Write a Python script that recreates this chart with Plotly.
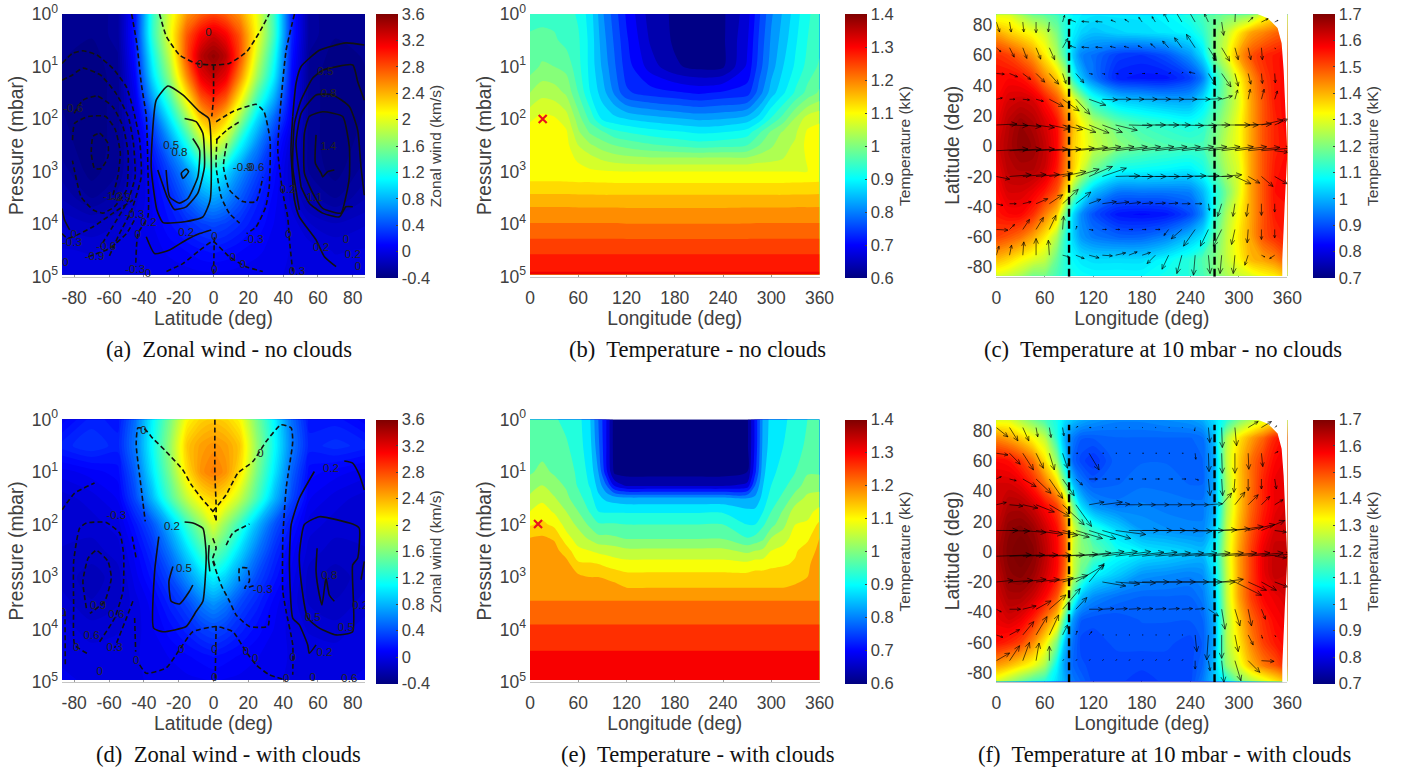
import math
import plotly.graph_objects as go

W, H = 1408, 770
JET = [[0, '#00007F'], [0.125, '#0000FF'], [0.375, '#00FFFF'], [0.625, '#FFFF00'], [0.875, '#FF0000'], [1, '#7F0000']]
TXT = '#404040'

# ---------- zonal wind (km/s) ----------
WIND_LAT = [-87, -70, -55, -45, -35, -25, -15, -7, 0, 7, 15, 25, 35, 45, 55, 70, 87]
WIND_A_LOGP = [0, .4, .8, 1.2, 1.6, 2, 2.5, 3, 3.5, 4, 4.5, 4.96]
WIND_A = [
    [-.3, -.32, -.25, .2, 1.3, 2.0, 2.55, 2.75, 2.85, 2.75, 2.55, 2.05, 1.35, .25, -.25, -.32, -.3],
    [-.3, -.32, -.25, .22, 1.3, 2.05, 2.8, 3.15, 3.3, 3.15, 2.8, 2.1, 1.35, .25, -.25, -.32, -.3],
    [-.32, -.35, -.28, .18, 1.15, 1.9, 2.85, 3.4, 3.55, 3.4, 2.85, 1.95, 1.2, .2, -.28, -.35, -.32],
    [-.33, -.36, -.3, .12, 1.0, 1.7, 2.6, 3.2, 3.35, 3.2, 2.6, 1.75, 1.05, .15, -.3, -.36, -.33],
    [-.33, -.36, -.3, .05, .75, 1.4, 2.2, 2.8, 3.0, 2.8, 2.2, 1.4, .8, .1, -.3, -.36, -.33],
    [-.32, -.36, -.3, .0, .45, 1.05, 1.75, 2.35, 2.55, 2.3, 1.75, 1.0, .5, .05, -.3, -.36, -.32],
    [-.3, -.36, -.3, -.08, .25, .65, 1.2, 1.75, 2.0, 1.75, 1.15, .65, .25, -.05, -.3, -.36, -.3],
    [-.25, -.35, -.28, -.1, .12, .4, .72, 1.05, 1.2, 1.0, .7, .4, .15, -.08, -.28, -.35, -.25],
    [-.18, -.28, -.2, -.05, .08, .25, .5, .7, .78, .68, .48, .25, .1, -.05, -.2, -.28, -.18],
    [-.08, -.12, -.07, 0, .07, .17, .28, .36, .4, .36, .28, .17, .07, 0, -.07, -.12, -.08],
    [-.02, -.03, 0, .02, .05, .09, .13, .17, .19, .17, .13, .09, .05, .02, 0, -.03, -.02],
    [0, 0, .01, .02, .03, .04, .05, .06, .06, .06, .05, .04, .03, .02, .01, 0, 0],
]
WIND_D_LOGP = [0, .5, 1, 1.5, 2, 2.5, 3, 3.5, 4, 4.5, 4.96]
WIND_D = [
    [.1, .25, .2, .55, 1.1, 1.6, 2.15, 2.3, 2.35, 2.3, 2.15, 1.6, 1.1, .55, .2, .2, .1],
    [.25, .32, .25, .6, 1.15, 1.7, 2.35, 2.5, 2.55, 2.5, 2.35, 1.7, 1.15, .6, .25, .3, .25],
    [.05, .1, .15, .5, 1.05, 1.6, 2.25, 2.55, 2.65, 2.55, 2.25, 1.6, 1.05, .5, .15, .1, .05],
    [-.05, 0, .08, .4, .85, 1.4, 1.9, 2.2, 2.3, 2.2, 1.9, 1.4, .85, .4, .08, 0, -.05],
    [-.05, -.05, 0, .2, .45, .85, 1.35, 1.7, 2.0, 1.7, 1.35, .85, .45, .2, 0, -.05, -.05],
    [-.08, -.1, -.05, .1, .3, .6, 1.0, 1.35, 1.55, 1.35, 1.0, .6, .3, .1, -.05, -.1, -.08],
    [-.1, -.15, -.1, .05, .2, .4, .7, .95, 1.1, .95, .7, .4, .2, .05, -.1, -.15, -.1],
    [-.05, -.12, -.08, 0, .1, .25, .4, .6, .7, .6, .4, .25, .1, 0, -.08, -.12, -.05],
    [0, -.05, -.03, 0, .07, .15, .25, .35, .4, .35, .25, .15, .07, 0, -.03, -.05, 0],
    [.02, 0, 0, .02, .04, .08, .12, .15, .18, .15, .12, .08, .04, .02, 0, 0, .02],
    [.03, .02, .02, .02, .03, .04, .06, .07, .08, .07, .06, .04, .03, .02, .02, .02, .03],
]

# streamfunction contour lines: (latitude, log10 pressure)
LINES_A_NEG = [
    ([-31, -27, -19.5, -10, 0, 9, 19, 26, 32], [0, .43, .78, .94, .97, .94, .72, .37, 0]),
    ([0, 0, -1], [.97, 1.6, 1.95]),
    ([-47, -44, -41.5, -38.6, -37.7, -37.7, -43.4, -44.7], [0, .57, 1.32, 1.95, 2.91, 3.86, 4.18, 4.81]),
    ([-87, -81, -75, -67, -58, -50, -46, -42.4, -41.5, -47, -54, -60], [.94, .75, .7, .78, 1.03, 1.39, 1.83, 2.4, 3.1, 3.73, 4.18, 4.62]),
    ([-87, -81, -75, -65, -56, -49, -46, -45, -49, -58, -65], [1.26, 1.16, 1.03, 1.16, 1.51, 1.95, 2.46, 3.1, 3.54, 4.05, 4.43]),
    ([-80, -75, -67, -58, -52, -49, -50, -57, -63.5, -69, -76, -81], [1.89, 1.64, 1.56, 1.76, 2.14, 2.65, 3.35, 3.67, 3.79, 3.73, 3.48, 2.79]),
    ([-81, -79.7, -71.8, -62, -56.4, -53.5, -55, -58], [2.4, 2.08, 1.95, 1.95, 2.2, 2.65, 3.1, 3.48]),
    ([-69.2, -65.4, -60.6, -60.6, -64.4, -68.3, -70.2, -69.2], [2.33, 2.27, 2.46, 2.72, 2.94, 2.94, 2.65, 2.33]),
    ([-87, -83.6, -69.2, -57.7, -46.3], [4.18, 4.27, 4.05, 3.79, 3.54]),
    ([-72, -59.7, -50, -44.4], [4.62, 4.46, 4.18, 3.86]),
    ([1.5, 11, 24.5, 29, 32.5, 32, 30, 24.5, 19], [2.05, 1.86, 1.72, 1.86, 2.4, 3.29, 3.67, 4.05, 4.18]),
    ([1.5, 8, 15], [2.4, 2.2, 2.05]),
    ([2, 1.5, 4.4, 9, 15], [2.37, 2.9, 3.48, 3.79, 3.98]),
    ([7.6, 5.7, 9.2, 16.8, 24.5, 28.3], [2.46, 2.9, 3.35, 3.57, 3.57, 3.1]),
    ([46.5, 41.7, 38.8, 36.9, 39.8, 42.6, 43.6, 45.5], [0, .69, 1.64, 2.59, 3.41, 3.86, 4.3, 4.9]),
    ([-27, -17.6, -8, -.4, 9, 18.7, 28.3], [4.9, 4.75, 4.5, 4.33, 4.62, 4.81, 4.9]),
    ([.5, 0], [4.25, 4.95]),
]
LINES_A_POS = [
    ([-38.6, -33.8, -25.2, -15.7, -8, -1.3], [4.24, 4.56, 4.49, 4.3, 4.18, 4.11]),
    ([-2.7, -1.9, -6.1, -15.7, -29, -32.5, -35.8, -32.9, -26.2, -17.6, -8, -2.7], [1.99, 3.54, 3.86, 3.95, 3.97, 3.73, 2.91, 1.64, 1.37, 1.54, 1.86, 1.99]),
    ([-16.6, -10, -6.1, -5.2, -9, -15.7, -22.4, -26.6, -32], [1.99, 2.05, 2.27, 2.91, 3.41, 3.67, 3.72, 3.48, 2.97]),
    ([-11.9, -8, -9, -14.7, -19.5, -25.2, -27.2], [2.37, 2.59, 3.1, 3.51, 3.6, 3.48, 2.97]),
    ([-18.5, -15.7, -14.3, -17.6, -18.5], [3.03, 2.95, 3.0, 3.13, 3.03]),
    ([45.5, 47.4, 50.3, 60.8, 76, 86.6], [1.95, 1.32, 1.0, .69, .55, .59]),
    ([45.5, 44.5, 46.5, 49.3, 58.9, 63.7, 70.4], [1.95, 2.59, 3.54, 3.86, 4.3, 4.62, 4.81]),
    ([49.3, 45.5, 46.5, 50.3, 57, 62.7, 80, 82.8, 86.6], [3.73, 2.91, 2.08, 1.64, 1.22, 1.07, .97, 1.29, 1.64]),
    ([50.3, 47.4, 50.3, 58.9, 68.5, 78, 82.8, 84.7, 86.6], [3.29, 2.46, 1.89, 1.54, 1.54, 1.76, 2.21, 2.91, 3.45]),
    ([50.3, 55, 62.7, 72.3, 76, 80], [3.29, 3.6, 3.79, 3.86, 3.67, 3.67]),
    ([52.2, 52.2, 55, 62.7, 74.2, 78, 78, 76, 73.2, 62.7, 57, 52.2], [3.03, 2.27, 1.95, 1.86, 1.95, 2.53, 3.1, 3.48, 3.79, 3.7, 3.41, 3.03]),
    ([58.9, 58.5, 61.8, 62.7, 65.6, 69.4], [2.3, 2.84, 3.03, 3.1, 3.0, 2.97]),
    ([-87, -85.5, -82.6], [3.7, 3.92, 4.11]),
]
LABELS_A = [
    ('0', -2.9, .37), ('0', -8, .97), ('0.5', -24.3, 2.51), ('0.8', -19.5, 2.65), ('-0.6', -80.7, 1.81),
    ('0.5', 64.2, 1.1), ('0.8', 66, 1.52), ('1.4', 66, 2.54), ('-0.9', 16.8, 2.94), ('-0.6', 23.5, 2.93),
    ('1.1', 58, 3.51), ('-1.2', -57.7, 3.48), ('-0.9', -53, 3.51), ('-0.3', -45.3, 3.83), ('0.2', -37.3, 3.98),
    ('0.2', -15.7, 4.18), ('-0.3', 23.1, 4.31), ('0', -43.6, 4.2), ('0', .6, 4.24), ('0', 43, 4.2), ('0.2', 42.6, 3.35),
    ('-0.6', -61.6, 4.43), ('-0.9', -68.3, 4.62), ('0', -80.3, 4.2), ('-0.3', -81.3, 4.36), ('0', -85, 4.75),
    ('0.2', 61.8, 4.46), ('0', 76, 4.3), ('0.2', 80, 4.59), ('0', 83, 4.81), ('-0.3', -45, 4.87), ('0', -37.7, 4.95),
    ('0', 16.8, 4.78), ('0', 11, 4.65), ('0', .6, 4.87), ('0.3', 48, 4.92),
]
LINES_D_NEG = [
    ([1.5, -.4, -6.1, -12.8, -17.6, -27.2, -34.8, -39.6, -43.4, -44.4, -41.5, -39.2], [1.91, 1.75, 1.53, 1.24, .96, .61, .36, .18, .16, .48, 1.31, 1.94]),
    ([-.4, 7.3, 14, 22.6, 30.2, 38.8, 44.6, 45.5, 41.7, 39.8, 39.8, 41.7, 45.5, 45.5], [1.75, 1.43, 1.02, .8, .42, .1, .16, .42, 1.31, 2.26, 3.27, 3.65, 4.29, 4.86]),
    ([.8, .8, 1.5, 1.5], [0, 1.05, 1.62, 1.94]),
    ([1.5, 1], [3.93, 4.93]),
    ([-46.7, -44.4], [2.23, 2.64]),
    ([-45.3, -44.7], [3.78, 4.42]),
    ([-46.3, -50, -56.8], [3.46, 3.78, 4.35]),
    ([-87, -79.7, -68.3], [1.72, 1.4, 1.21]),
    ([-72.7, -79.7, -80.3, -80.3, -76.9, -73, -61.6, -53.9, -51.6, -52, -56.8, -65.4], [4.45, 4.29, 3.53, 2.7, 2.07, 1.97, 1.96, 2.16, 2.58, 3.27, 3.78, 4.23]),
    ([-73, -75, -72, -67.3, -60.6, -58.7, -62.5, -71], [3.59, 3.08, 2.64, 2.49, 2.7, 3.02, 3.46, 3.69]),
    ([-85.3, -85.1], [3.65, 4.67]),
    ([7.3, 11.1, 20.6], [2.39, 2.16, 1.99]),
    ([-.4, 4.4, 9.2, 13, 20.6, 31.2, 32.1], [2.7, 3.15, 3.46, 3.72, 3.94, 3.94, 3.72]),
    ([14.9, 14.9, 19.7, 20.6, 17.8, 24.5], [3.08, 2.83, 2.83, 3.08, 3.21, 3.15]),
    ([-42.4, -38.6, -27.2, -19.5, -11.9, 1.5, 11.1, 18.7, 24.5, 32.1, 41.7], [4.67, 4.83, 4.73, 4.38, 4.04, 3.94, 4.04, 4.42, 4.67, 4.86, 4.96]),
    ([-.4, 1.5, -.4, 1.5], [2.26, 2.45, 2.64, 2.83]),
]
LINES_D_POS = [
    ([-31.4, -33.8, -34.4, -29, -15.7, -9.9, -6.1, -4.2, -6.1, -11.9, -16.6], [2.23, 2.89, 3.97, 4.04, 3.94, 3.65, 3.46, 2.58, 2.07, 1.97, 1.95]),
    ([-23.3, -25.6, -24.3, -19.5, -13.8, -11.9], [2.8, 3.08, 3.46, 3.51, 3.27, 3.15]),
    ([-2.5, -2.9, -2.1], [2.39, 2.64, 2.89]),
    ([57.9, 49.3, 44.6, 43.6, 45.5, 49.3, 54.1, 55, 58.9], [.99, 1.5, 2.0, 2.77, 3.78, 3.91, 4.29, 4.45, 4.29]),
    ([75.1, 79.9, 83.7, 86.6], [.79, .83, 1.05, 1.34]),
    ([52.2, 60.8, 79.9, 83.7, 82.8, 79.9, 79.9, 70.4, 60.8, 54.1, 50.3, 49.3, 52.2], [2.0, 1.85, 1.99, 2.07, 2.64, 2.77, 4.04, 4.1, 3.97, 3.78, 3.08, 2.58, 2.0]),
    ([59.5, 58.9, 60.8, 62.3, 64.6, 66.5, 69.4], [2.45, 2.89, 3.34, 3.53, 3.02, 3.34, 3.46]),
    ([86.6, 84.7], [2.7, 3.05]),
]
LABELS_D = [
    ('0', -40.2, .23), ('0', 27, .65), ('0.2', 67.5, .94), ('-0.3', -55.8, 1.83), ('0.2', -23.9, 2.05), ('0.5', -17, 2.84),
    ('-0.3', 28.3, 3.24), ('0.8', 66.5, 2.99), ('0.6', -55.8, 3.72), ('0.9', -66.3, 3.56), ('0.5', 57, 3.78), ('0.5', 76, 3.97),
    ('0.2', 84.3, 3.56), ('0.3', -56.8, 4.35), ('0.6', -70, 4.13), ('0', -86.4, 3.69), ('0', -78.8, 4.35), ('0', -18.5, 4.38),
    ('0', .6, 4.38), ('0', 18.7, 4.42), ('0', 24, 4.57), ('0', 45.5, 4.54), ('0.2', 63.7, 4.45), ('0', -44.4, 4.6),
    ('0', .6, 4.92), ('0', 41.7, 4.94), ('0', 57, 4.92), ('0', -65.4, 4.8), ('0.6', 78, 4.95),
]

# ---------- temperature sections (kK) ----------
TEMP_B_LON = [0, 15, 30, 45, 60, 75, 90, 105, 120, 150, 180, 210, 240, 270, 285, 300, 315, 330, 345, 360]
TEMP_B_LOGP = [0, .5, 1, 1.5, 2, 2.25, 2.5, 2.75, 3, 3.2, 3.45, 3.7, 4, 4.3, 4.6, 4.96]
TEMP_B = [
    [.955, .955, .955, .95, .93, .89, .82, .77, .72, .65, .63, .62, .63, .68, .75, .81, .85, .89, .93, .95],
    [.97, .975, .97, .955, .94, .895, .83, .78, .73, .66, .63, .62, .63, .69, .76, .82, .86, .90, .935, .955],
    [.98, 1.0, .995, .985, .945, .895, .84, .79, .74, .68, .64, .625, .63, .70, .77, .83, .875, .91, .945, .97],
    [1.025, 1.045, 1.04, 1.02, .965, .905, .86, .81, .76, .74, .73, .72, .73, .74, .80, .86, .90, .94, .975, 1.0],
    [1.08, 1.095, 1.09, 1.07, 1.01, .955, .90, .885, .875, .86, .85, .84, .845, .86, .89, .94, .98, 1.03, 1.07, 1.08],
    [1.10, 1.105, 1.10, 1.09, 1.03, .99, .97, .945, .935, .92, .91, .90, .905, .92, .96, 1.0, 1.03, 1.05, 1.09, 1.095],
    [1.10, 1.105, 1.10, 1.095, 1.055, 1.03, 1.01, .995, .985, .97, .96, .95, .955, .965, .995, 1.02, 1.045, 1.06, 1.095, 1.10],
    [1.10, 1.105, 1.10, 1.097, 1.08, 1.065, 1.05, 1.04, 1.035, 1.03, 1.03, 1.03, 1.03, 1.03, 1.04, 1.045, 1.055, 1.06, 1.09, 1.095],
    [1.105, 1.105, 1.105, 1.10, 1.095, 1.09, 1.088, 1.086, 1.085, 1.085, 1.085, 1.085, 1.085, 1.085, 1.085, 1.085, 1.085, 1.085, 1.085, 1.088],
    [1.116, 1.116, 1.116, 1.116, 1.115, 1.115, 1.114, 1.113, 1.113, 1.113, 1.113, 1.113, 1.113, 1.113, 1.113, 1.113, 1.113, 1.114, 1.115, 1.116],
    [1.148, 1.148, 1.148, 1.148, 1.147, 1.147, 1.146, 1.146, 1.146, 1.146, 1.146, 1.146, 1.146, 1.146, 1.146, 1.146, 1.146, 1.147, 1.147, 1.148],
    [1.178, 1.178, 1.178, 1.178, 1.177, 1.177, 1.177, 1.177, 1.176, 1.176, 1.176, 1.176, 1.176, 1.177, 1.177, 1.177, 1.177, 1.178, 1.178, 1.178],
    [1.207, 1.207, 1.207, 1.207, 1.207, 1.207, 1.207, 1.207, 1.206, 1.206, 1.206, 1.206, 1.206, 1.206, 1.207, 1.207, 1.207, 1.207, 1.207, 1.207],
    [1.237, 1.237, 1.237, 1.237, 1.237, 1.237, 1.237, 1.237, 1.237, 1.237, 1.237, 1.237, 1.237, 1.237, 1.237, 1.237, 1.237, 1.237, 1.237, 1.237],
    [1.268, 1.268, 1.268, 1.268, 1.268, 1.268, 1.268, 1.268, 1.268, 1.268, 1.268, 1.268, 1.268, 1.268, 1.268, 1.268, 1.268, 1.268, 1.268, 1.268],
    [1.30, 1.30, 1.30, 1.30, 1.30, 1.30, 1.30, 1.30, 1.30, 1.30, 1.30, 1.30, 1.30, 1.30, 1.30, 1.30, 1.30, 1.30, 1.30, 1.30],
]
TEMP_E_LON = [0, 15, 30, 45, 60, 75, 85, 95, 105, 120, 150, 180, 210, 240, 270, 280, 290, 300, 315, 330, 345, 360]
TEMP_E_LOGP = [0, .5, 1, 1.25, 1.5, 1.75, 2, 2.25, 2.5, 2.75, 3, 3.2, 3.45, 3.9, 4.4, 4.96]
TEMP_E = [
    [.955, .96, .955, .94, .925, .87, .79, .71, .61, .61, .61, .61, .61, .61, .62, .72, .84, .885, .905, .92, .95, .96],
    [.965, .975, .965, .955, .93, .88, .80, .71, .61, .61, .61, .61, .61, .61, .62, .72, .845, .89, .91, .93, .96, .97],
    [.985, 1.0, .985, .975, .94, .895, .83, .72, .62, .615, .615, .615, .615, .615, .63, .74, .86, .90, .925, .95, .985, .985],
    [1.01, 1.03, 1.005, .985, .945, .905, .855, .79, .70, .66, .66, .66, .66, .66, .68, .79, .87, .91, .94, .97, 1.01, 1.01],
    [1.04, 1.06, 1.035, 1.0, .965, .925, .88, .86, .85, .84, .84, .84, .84, .84, .83, .84, .885, .93, .96, 1.01, 1.04, 1.05],
    [1.07, 1.09, 1.065, 1.03, .99, .945, .91, .905, .905, .905, .905, .905, .905, .905, .88, .88, .91, .95, .995, 1.05, 1.06, 1.08],
    [1.105, 1.12, 1.10, 1.055, 1.02, .98, .955, .955, .955, .95, .95, .95, .95, .95, .91, .91, .945, .975, 1.02, 1.07, 1.075, 1.12],
    [1.15, 1.155, 1.145, 1.085, 1.05, 1.02, 1.0, 1.0, .995, .985, .985, .985, .985, .985, .95, .96, .98, 1.03, 1.05, 1.09, 1.10, 1.15],
    [1.165, 1.17, 1.165, 1.13, 1.08, 1.07, 1.06, 1.055, 1.05, 1.04, 1.04, 1.04, 1.04, 1.04, 1.02, 1.03, 1.04, 1.07, 1.085, 1.105, 1.13, 1.16],
    [1.17, 1.17, 1.17, 1.165, 1.117, 1.115, 1.11, 1.10, 1.09, 1.085, 1.085, 1.085, 1.085, 1.085, 1.08, 1.09, 1.09, 1.10, 1.105, 1.115, 1.145, 1.165],
    [1.17, 1.17, 1.17, 1.17, 1.16, 1.15, 1.15, 1.145, 1.14, 1.125, 1.125, 1.125, 1.125, 1.125, 1.125, 1.13, 1.13, 1.13, 1.135, 1.14, 1.15, 1.17],
    [1.175, 1.175, 1.175, 1.175, 1.172, 1.17, 1.17, 1.168, 1.16, 1.15, 1.15, 1.15, 1.15, 1.15, 1.15, 1.15, 1.15, 1.15, 1.15, 1.155, 1.16, 1.175],
    [1.19, 1.19, 1.19, 1.19, 1.19, 1.19, 1.19, 1.19, 1.19, 1.19, 1.19, 1.19, 1.19, 1.19, 1.19, 1.19, 1.19, 1.19, 1.19, 1.19, 1.19, 1.19],
    [1.23, 1.23, 1.23, 1.23, 1.23, 1.23, 1.23, 1.23, 1.23, 1.23, 1.23, 1.23, 1.23, 1.23, 1.23, 1.23, 1.23, 1.23, 1.23, 1.23, 1.23, 1.23],
    [1.27, 1.27, 1.27, 1.27, 1.27, 1.27, 1.27, 1.27, 1.27, 1.27, 1.27, 1.27, 1.27, 1.27, 1.27, 1.27, 1.27, 1.27, 1.27, 1.27, 1.27, 1.27],
    [1.30, 1.30, 1.30, 1.30, 1.30, 1.30, 1.30, 1.30, 1.30, 1.30, 1.30, 1.30, 1.30, 1.30, 1.30, 1.30, 1.30, 1.30, 1.30, 1.30, 1.30, 1.30],
]
HOT_B = (15.8, 2.0)
HOT_E = (10, 1.99)

# ---------- temperature maps at 10 mbar (kK) ----------
MAP_LON = [0, 15, 30, 45, 60, 75, 85, 95, 105, 120, 150, 180, 210, 240, 255, 270, 285, 300, 315, 330, 345, 360]
MAP_LAT = [87, 75, 60, 45, 30, 15, 0, -15, -30, -45, -60, -75, -85.5]
MAP_C = [
    [1.3, 1.3, 1.25, 1.2, 1.18, 1.15, 1.12, 1.08, 1.07, 1.06, 1.06, 1.06, 1.08, 1.12, 1.15, 1.18, 1.2, 1.2, 1.22, 1.3, 1.35, 1.4],
    [1.42, 1.38, 1.35, 1.32, 1.28, 1.2, 1.12, 1.07, 1.04, 1.02, 1.04, 1.05, 1.06, 1.08, 1.12, 1.2, 1.27, 1.35, 1.42, 1.45, 1.48, 1.5],
    [1.54, 1.52, 1.48, 1.43, 1.35, 1.25, 1.15, 1.03, .96, .94, .89, .88, .91, .98, 1.05, 1.2, 1.3, 1.42, 1.5, 1.54, 1.56, 1.58],
    [1.58, 1.58, 1.57, 1.53, 1.45, 1.38, 1.28, 1.12, 1.02, .95, .86, .85, .85, .89, .95, 1.1, 1.22, 1.33, 1.44, 1.52, 1.56, 1.58],
    [1.58, 1.62, 1.63, 1.62, 1.57, 1.5, 1.42, 1.33, 1.24, 1.12, 1.04, 1.02, 1.0, 1.0, 1.05, 1.13, 1.22, 1.3, 1.42, 1.5, 1.56, 1.58],
    [1.6, 1.65, 1.68, 1.66, 1.62, 1.57, 1.48, 1.4, 1.33, 1.26, 1.18, 1.14, 1.12, 1.1, 1.12, 1.18, 1.25, 1.32, 1.42, 1.5, 1.55, 1.58],
    [1.62, 1.66, 1.69, 1.68, 1.64, 1.58, 1.48, 1.38, 1.34, 1.28, 1.22, 1.18, 1.16, 1.15, 1.15, 1.2, 1.27, 1.32, 1.42, 1.5, 1.55, 1.57],
    [1.6, 1.65, 1.66, 1.66, 1.63, 1.56, 1.47, 1.38, 1.3, 1.2, 1.1, 1.09, 1.08, 1.07, 1.1, 1.17, 1.25, 1.3, 1.42, 1.5, 1.56, 1.58],
    [1.58, 1.62, 1.62, 1.6, 1.56, 1.5, 1.38, 1.22, 1.12, 1.02, .95, .95, .95, .96, 1.01, 1.1, 1.2, 1.3, 1.42, 1.5, 1.57, 1.58],
    [1.56, 1.58, 1.58, 1.54, 1.46, 1.38, 1.2, 1.05, .97, .91, .85, .84, .85, .9, .97, 1.12, 1.25, 1.33, 1.42, 1.5, 1.56, 1.56],
    [1.52, 1.5, 1.47, 1.42, 1.35, 1.25, 1.13, 1.04, .98, .95, .93, .93, .96, 1.02, 1.06, 1.17, 1.27, 1.35, 1.42, 1.5, 1.54, 1.56],
    [1.4, 1.37, 1.33, 1.3, 1.27, 1.18, 1.12, 1.08, 1.06, 1.05, 1.05, 1.05, 1.08, 1.12, 1.16, 1.2, 1.27, 1.33, 1.4, 1.42, 1.45, 1.5],
    [1.3, 1.28, 1.25, 1.2, 1.2, 1.15, 1.12, 1.1, 1.09, 1.08, 1.08, 1.08, 1.1, 1.12, 1.15, 1.2, 1.25, 1.28, 1.3, 1.33, 1.35, 1.4],
]
MAP_F = [
    [1.3, 1.3, 1.25, 1.2, 1.15, 1.1, 1.05, 1.02, 1.0, .98, .96, .96, .97, .98, 1.0, 1.05, 1.12, 1.2, 1.25, 1.3, 1.35, 1.4],
    [1.45, 1.42, 1.38, 1.33, 1.27, 1.12, 1.0, .95, .92, .92, .93, .93, .93, .93, .94, 1.02, 1.25, 1.35, 1.42, 1.48, 1.55, 1.58],
    [1.58, 1.57, 1.53, 1.47, 1.36, 1.22, 1.05, .93, .9, .88, .93, .93, .93, .93, .93, 1.0, 1.27, 1.38, 1.47, 1.53, 1.58, 1.6],
    [1.62, 1.62, 1.6, 1.55, 1.47, 1.37, 1.2, 1.02, .95, .92, .93, .94, .94, .93, .93, 1.0, 1.25, 1.38, 1.47, 1.55, 1.6, 1.6],
    [1.62, 1.66, 1.66, 1.63, 1.58, 1.52, 1.42, 1.2, 1.05, .98, .95, .96, .95, .95, .95, 1.0, 1.25, 1.38, 1.48, 1.55, 1.6, 1.62],
    [1.64, 1.69, 1.7, 1.68, 1.63, 1.57, 1.48, 1.3, 1.2, 1.12, 1.04, .98, .97, .96, .96, 1.03, 1.27, 1.4, 1.5, 1.57, 1.62, 1.62],
    [1.66, 1.7, 1.72, 1.7, 1.65, 1.58, 1.5, 1.28, 1.22, 1.18, 1.1, 1.07, 1.05, 1.03, 1.02, 1.07, 1.28, 1.42, 1.52, 1.6, 1.64, 1.64],
    [1.64, 1.69, 1.7, 1.68, 1.63, 1.57, 1.47, 1.28, 1.18, 1.08, 1.03, .98, .97, .96, .97, 1.05, 1.27, 1.42, 1.52, 1.6, 1.64, 1.63],
    [1.62, 1.66, 1.66, 1.63, 1.58, 1.5, 1.35, 1.15, 1.02, .97, .94, .93, .93, .93, .95, 1.02, 1.27, 1.42, 1.52, 1.58, 1.6, 1.62],
    [1.6, 1.62, 1.6, 1.55, 1.47, 1.37, 1.15, .98, .92, .91, .91, .92, .92, .92, .93, 1.0, 1.25, 1.38, 1.48, 1.54, 1.58, 1.6],
    [1.57, 1.55, 1.52, 1.45, 1.35, 1.2, 1.02, .94, .9, .9, .91, .91, .91, .9, .92, 1.0, 1.25, 1.35, 1.45, 1.52, 1.56, 1.58],
    [1.43, 1.4, 1.36, 1.32, 1.25, 1.08, .98, .93, .91, .9, .9, .9, .9, .9, .93, 1.02, 1.22, 1.3, 1.4, 1.46, 1.5, 1.55],
    [1.3, 1.25, 1.2, 1.15, 1.12, 1.05, 1.0, .95, .93, .9, .9, .88, .9, .9, .95, 1.03, 1.1, 1.2, 1.25, 1.3, 1.35, 1.4],
]
MASK_LON = [322, 336, 348, 353, 355.5, 357.5, 360, 357, 354.5, 353.8, 353.8, 361, 361, 322]
MASK_LAT = [87.5, 84.5, 78, 68, 50, 25, -4.8, -35.8, -60, -75, -87, -87, 87.5, 87.5]

# wind arrows on the 10 mbar maps
ARROW_LAT = [82, 65, 48, 31, 14, -3, -20, -38, -55, -72]
ARROW_LON = [0, 16.4, 32.8, 49.2, 65.6, 82, 98.4, 114.8, 131.2, 147.6, 164, 180.4, 196.8, 213.2, 229.6, 246, 262.4, 278.8, 295.2, 311.6, 328, 344.4]
U_C = [
    [10, 5, 3, 0, -3, 6, -20, -22, -20, -14, -12, -10, -10, -15, -25, -32, -12, 6, 2, 14, 20, 10],
    [14, 14, 12, 14, 16, 16, -18, -22, -20, -16, -14, -12, -14, -18, -22, -26, 24, 24, 10, 8, 3, 2],
    [24, 24, 24, 26, 28, 10, 24, 10, 8, 8, 8, 8, 6, 6, 3, -18, 22, 28, 10, 8, 3, 2],
    [18, 16, 20, 22, 42, 50, 42, 50, 45, 45, 45, 45, 45, 45, 45, 45, 40, 32, 8, 6, 8, 8],
    [62, 55, 55, 55, 60, 60, 60, 60, 60, 65, 70, 70, 70, 65, 65, 65, 65, 85, 70, 70, 65, 40],
    [95, 95, 95, 95, 95, 95, 95, 95, 95, 95, 95, 95, 95, 95, 95, 95, 95, 95, 95, 95, 90, 40],
    [40, 65, 70, 70, 70, 70, 70, 70, 72, 72, 72, 72, 72, 72, 72, 72, 72, 60, 48, 35, 35, 38],
    [20, 20, 25, 35, 40, 47, 45, 35, 42, 40, 35, 32, 30, 28, 25, 20, 3, -12, -6, -5, 0, 0],
    [35, 15, 20, 22, 20, 3, 3, 12, 12, 12, 12, 12, 14, -14, -32, -35, -24, -25, -10, -3, 0, 0],
    [8, 6, 3, 0, -3, 20, 25, 30, 30, 30, 25, 25, -25, -20, -15, -5, 5, -5, -5, -10, 10, -15],
]
V_C = [
    [-30, -30, -30, -32, -30, 20, 8, 2, 2, 6, 8, 14, 16, 28, 42, 55, 25, -40, 40, 14, 10, 5],
    [-12, -28, -32, -34, -36, 28, 6, 2, 2, 4, 4, 6, 12, 20, 30, 40, -38, -40, -36, -36, -36, -3],
    [-2, -10, -18, -26, -32, -30, -28, -2, -2, -1, 0, 0, 0, 2, 4, 4, -35, -40, -38, -32, -30, -28],
    [4, 0, -2, -6, -22, -35, -45, -18, -2, 0, 0, 0, 0, 0, 0, 0, 2, 10, 28, 30, 30, 25],
    [3, -2, -5, -8, -12, -14, -22, -24, -22, -16, -2, 0, 0, 0, -2, -2, 0, 0, 0, 3, 15, 18],
    [5, 5, 5, 5, 5, 8, 10, 12, 12, 12, 12, 12, 12, 12, 12, 12, 12, 12, 12, 10, 8, -5],
    [-8, 5, 6, 6, 10, 15, 22, 30, 25, 2, 0, 0, 0, 0, 2, 2, 0, 5, -22, -20, -30, -22],
    [-5, 0, 6, 15, 27, 43, 35, 13, 6, 5, 4, 3, 2, 2, 0, 0, -20, -38, -38, -38, -35, -25],
    [-2, 15, 30, 36, 42, 40, 10, -2, 0, 0, 0, 0, 0, -18, -28, -50, -50, -50, -45, -40, -30, -25],
    [27, 30, 40, 50, 45, -5, -10, -8, -2, 7, 10, 8, -25, -42, -55, -60, -55, -55, -55, -30, -5, -10],
]
U_F = [
    [35, 25, 18, 5, 5, 4, 6, 6, 2, 2, 2, 2, 2, 2, 2, -2, 4, 2, 5, 30, 30, 6],
    [35, 32, 32, 22, 15, 15, 6, 30, 4, 4, 4, 4, 4, 4, 4, 2, 2, 2, 0, 2, 4, 10],
    [15, 20, 40, 45, 40, 35, 20, 25, 12, 12, 12, 12, 12, 12, 12, 10, 5, 3, -3, 0, 0, 5],
    [30, 40, 45, 55, 60, 65, 47, 45, 60, 42, 40, 40, 40, 40, 40, 40, 42, 30, 30, 30, 25, 25],
    [65, 60, 70, 80, 85, 80, 80, 80, 85, 90, 90, 90, 90, 90, 90, 85, 85, 85, 85, 80, 70, 35],
    [105, 105, 105, 105, 105, 105, 105, 105, 105, 105, 105, 105, 105, 105, 105, 105, 105, 105, 105, 105, 90, 35],
    [50, 70, 70, 70, 72, 75, 85, 45, 70, 72, 80, 80, 80, 80, 80, 80, 80, 65, 80, 55, 45, 40],
    [15, 33, 40, 45, 50, 53, 33, 40, 35, 35, 35, 32, 32, 32, 32, 28, 30, 10, 15, 10, 12, 0],
    [20, 30, 33, 33, 28, 15, 4, 8, 3, 3, 3, 3, 3, 3, 3, 5, -5, 0, 10, 15, 3, 3],
    [40, 30, 20, 9, 0, 3, 3, 3, 3, 3, 3, 3, 3, 3, 3, 0, 5, 7, 18, 35, 38, 0],
]
V_F = [
    [-28, -40, -40, -28, -30, -25, 3, 0, 0, 0, 0, 0, 0, 0, 0, -10, -45, -60, -55, 18, 18, 5],
    [-5, -33, -50, -45, -50, -45, 0, -50, 0, 0, 0, 0, 0, 0, 0, -18, -55, -60, -60, -48, -40, 5],
    [7, -5, -23, -43, -58, -50, -18, 0, 0, 0, 0, 0, 0, 0, 0, -3, -50, -50, -40, -35, -30, -30],
    [7, -4, -10, -22, -35, -60, -65, 8, 8, 2, 0, 0, 0, 0, 0, 0, 3, 35, 38, 30, 25, 15],
    [0, -2, -6, -12, -15, -20, -24, -25, -24, -12, 0, 0, 0, 0, -2, 0, 2, 5, 12, 18, 30, -5],
    [4, 4, 4, 4, 4, 6, 10, 14, 14, 14, 12, 12, 10, 10, 10, 10, 10, 10, 10, 10, 6, -5],
    [5, 5, 8, 8, 12, 20, 50, 55, -12, -6, -3, 0, 0, 0, 0, 0, 0, 8, -40, -25, -25, -15],
    [-8, 0, 10, 25, 43, 62, 35, 0, 2, 2, 2, 2, 2, 2, 2, 2, -20, -60, -50, -50, -30, 0],
    [-7, 16, 40, 55, 60, 30, 12, 10, 0, 0, 0, 0, 0, 0, 0, -50, -75, -70, -50, -30, -10, -5],
    [23, 45, 55, 53, 43, 3, 3, 3, 3, 3, 3, 3, 3, 3, 3, -25, -30, -65, -60, -35, -2, 0],
]

LON_TICKS = [0, 60, 120, 180, 240, 300, 360]
LAT_TICKS = [-80, -60, -40, -20, 0, 20, 40, 60, 80]
MAP_LAT_TICKS = [-80, -60, -40, -20, 0, 20, 40, 60, 80]
P_TICKS = [1, 10, 100, 1000, 10000, 100000]
P_LABELS = ['10<sup>0</sup>', '10<sup>1</sup>', '10<sup>2</sup>', '10<sup>3</sup>', '10<sup>4</sup>', '10<sup>5</sup>']
CAPTIONS = ['(a)  Zonal wind - no clouds', '(b)  Temperature - no clouds', '(c)  Temperature at 10 mbar - no clouds',
            '(d)  Zonal wind - with clouds', '(e)  Temperature - with clouds', '(f)  Temperature at 10 mbar - with clouds']
CAPTION_X = [229, 697, 1163, 229, 697, 1164]
WIND_TICKS = [-.4, 0, .4, .8, 1.2, 1.6, 2, 2.4, 2.8, 3.2, 3.6]
SEC_TICKS = [.6, .7, .8, .9, 1, 1.1, 1.2, 1.3, 1.4]
MAP_TICKS = [.7, .8, .9, 1, 1.1, 1.2, 1.3, 1.4, 1.5, 1.6, 1.7]

# layout (pixels)
PLOT_X = [(62, 365), (530, 819.5), (996.3, 1287.3)]
BAR_X = [376, 845, 1313]
ROW_TOP = [14, 419.5]
ROW_BOT = [276.7, 682.2]
BAR_H = 264

fig = go.Figure()
layout = dict(width=W, height=H, autosize=False, margin=dict(l=0, r=0, t=0, b=0, autoexpand=False),
              paper_bgcolor='white', plot_bgcolor='white', showlegend=False,
              font=dict(family='Liberation Sans', color=TXT))
annotations = []


def axes(idx, r, c, xtitle, xticks, xrange, ytitle, yticks, ylabels, yrange, ylog):
    s = '' if idx == 1 else str(idx)
    x0, x1 = PLOT_X[c]
    layout['xaxis' + s] = dict(domain=[x0 / W, x1 / W], range=xrange, anchor='y' + s, tickmode='array', tickvals=xticks,
                               ticktext=[str(t) for t in xticks], ticks='inside', ticklen=3, tickcolor='#999999',
                               showgrid=False, zeroline=False, showline=True, linecolor='#c4c4c4', linewidth=1,
                               tickfont=dict(size=17.5, color=TXT), ticklabelstandoff=5, layer='below traces',
                               title=dict(text=xtitle, font=dict(size=19.3, color=TXT), standoff=4))
    y = dict(domain=[1 - ROW_BOT[r] / H, 1 - ROW_TOP[r] / H], range=yrange, anchor='x' + s, tickmode='array', tickvals=yticks,
             ticktext=ylabels, ticks='', showgrid=False, zeroline=False, showline=False,
             tickfont=dict(size=17.5, color=TXT), ticklabelstandoff=3,
             title=dict(text=ytitle, font=dict(size=19.3, color=TXT), standoff=2))
    if ylog:
        y['type'] = 'log'
    layout['yaxis' + s] = y
    return 'x' + s, 'y' + s


def field(xa, ya, xs, ys, z, zmin, zmax, size, start):
    # plotly colours a filled band by its upper level: shift the range half a band so the band shows its middle value
    fig.add_trace(go.Contour(x=xs, y=ys, z=z, xaxis=xa, yaxis=ya, zmin=zmin + size / 2, zmax=zmax + size / 2, colorscale=JET, showscale=False,
                             autocontour=False, contours=dict(coloring='fill', showlines=False, start=start, end=zmax + 1, size=size),
                             line=dict(width=0, smoothing=0.8), hoverinfo='skip'))


def colorbar(xa, ya, xpt, ypt, r, c, zmin, zmax, ticks, title):
    fig.add_trace(go.Scatter(x=[xpt, xpt], y=[ypt, ypt], xaxis=xa, yaxis=ya, mode='markers', hoverinfo='skip',
                             marker=dict(opacity=0, size=1, color=[zmin, zmax], cmin=zmin, cmax=zmax, colorscale=JET, showscale=True,
                                         colorbar=dict(xref='paper', yref='paper', x=BAR_X[c] / W, xanchor='left', y=1 - ROW_TOP[r] / H, yanchor='top',
                                                       lenmode='pixels', len=BAR_H, thicknessmode='pixels', thickness=22, xpad=0, ypad=0,
                                                       outlinewidth=0, tickmode='array', tickvals=ticks, ticktext=[f'{t:g}' for t in ticks],
                                                       ticks='inside', ticklen=2, tickcolor='#404040', tickfont=dict(size=16.5, color=TXT),
                                                       title=dict(text=title, side='right', font=dict(size=15.5, color=TXT))))))


def lines(xa, ya, data, dash, width):
    for la, lp in data:
        fig.add_trace(go.Scatter(x=la, y=[10 ** v for v in lp], xaxis=xa, yaxis=ya, mode='lines', hoverinfo='skip',
                                 line=dict(color='#111111', width=width, dash=dash, shape='spline', smoothing=0.5)))


def labels(xa, ya, data):
    fig.add_trace(go.Scatter(x=[d[1] for d in data], y=[10 ** d[2] for d in data], text=[d[0] for d in data], xaxis=xa, yaxis=ya,
                             mode='text', hoverinfo='skip', textfont=dict(size=11.5, color='#222222', family='Liberation Sans')))


def quiver(xa, ya, U, V):
    sx, sy = 2.425, 4.54  # arrow units per degree of longitude / latitude
    xs, ys = [], []
    for lat, ur, vr in zip(ARROW_LAT, U, V):
        for lon, u, v in zip(ARROW_LON, ur, vr):
            L = math.hypot(u, v)
            if L == 0:
                continue
            h = min(0.34 * L, 18)
            ang = math.atan2(v, u)
            tx, ty = lon + u / sx, lat + v / sy
            xs += [lon, tx, None]
            ys += [lat, ty, None]
            for d in (2.72, -2.72):
                xs += [tx, tx + h * math.cos(ang + d) / sx, None]
                ys += [ty, ty + h * math.sin(ang + d) / sy, None]
    fig.add_trace(go.Scatter(x=xs, y=ys, xaxis=xa, yaxis=ya, mode='lines', hoverinfo='skip', connectgaps=False,
                             line=dict(color='rgba(0,0,0,0.8)', width=0.8)))


def wind_panel(idx, r, logp, z, neg, pos, lab):
    xa, ya = axes(idx, r, 0, 'Latitude (deg)', LAT_TICKS, [-87, 87], 'Pressure (mbar)', P_TICKS, P_LABELS, [5, 0], True)
    field(xa, ya, WIND_LAT, [10 ** v for v in logp], z, -.4, 3.6, .05, -.425)
    lines(xa, ya, neg, '5px,3px', 1.6)
    lines(xa, ya, pos, 'solid', 1.6)
    labels(xa, ya, lab)
    colorbar(xa, ya, 0, 100, r, 0, -.4, 3.6, WIND_TICKS, 'Zonal wind (km/s)')


def section_panel(idx, r, lon, logp, z, hot, size, start):
    xa, ya = axes(idx, r, 1, 'Longitude (deg)', LON_TICKS, [0, 360], 'Pressure (mbar)', P_TICKS, P_LABELS, [5, 0], True)
    field(xa, ya, lon, [10 ** v for v in logp], z, .6, 1.4, size, start)
    fig.add_trace(go.Scatter(x=[hot[0]], y=[10 ** hot[1]], xaxis=xa, yaxis=ya, mode='markers', hoverinfo='skip',
                             marker=dict(symbol='x-thin', size=8, line=dict(color='#e8141c', width=2.2))))
    colorbar(xa, ya, 180, 100, r, 1, .6, 1.4, SEC_TICKS, 'Temperature (kK)')


def map_panel(idx, r, z, U, V):
    xa, ya = axes(idx, r, 2, 'Longitude (deg)', LON_TICKS, [0, 360], 'Latitude (deg)', MAP_LAT_TICKS,
                  [str(t) for t in MAP_LAT_TICKS], [-86.2, 87.3], False)
    field(xa, ya, MAP_LON, MAP_LAT[::-1], z[::-1], .7, 1.7, .0125, .69375)
    fig.add_trace(go.Scatter(x=MASK_LON, y=MASK_LAT, xaxis=xa, yaxis=ya, mode='lines', fill='toself', fillcolor='white',
                             line=dict(width=0, color='white'), hoverinfo='skip'))
    quiver(xa, ya, U, V)
    for lon in (90, 270):
        fig.add_trace(go.Scatter(x=[lon, lon], y=[-86.2, 83.8], xaxis=xa, yaxis=ya, mode='lines', hoverinfo='skip',
                                 line=dict(color='black', width=2.4, dash='8px,4px')))
    colorbar(xa, ya, 180, 0, r, 2, .7, 1.7, MAP_TICKS, 'Temperature (kK)')


wind_panel(1, 0, WIND_A_LOGP, WIND_A, LINES_A_NEG, LINES_A_POS, LABELS_A)
section_panel(2, 0, TEMP_B_LON, TEMP_B_LOGP, TEMP_B, HOT_B, .03, .605)
map_panel(3, 0, MAP_C, U_C, V_C)
wind_panel(4, 1, WIND_D_LOGP, WIND_D, LINES_D_NEG, LINES_D_POS, LABELS_D)
section_panel(5, 1, TEMP_E_LON, TEMP_E_LOGP, TEMP_E, HOT_E, .04, .59)
map_panel(6, 1, MAP_F, U_F, V_F)

for i, (txt, cx) in enumerate(zip(CAPTIONS, CAPTION_X)):
    annotations.append(dict(text=txt, x=cx / W, y=1 - (349 if i < 3 else 754.5) / H, xref='paper', yref='paper', showarrow=False,
                            xanchor='center', yanchor='middle', font=dict(family='Liberation Serif', size=22.6, color='#111111')))
layout['annotations'] = annotations
fig.update_layout(**layout)
fig.write_html('out.html', config={'displayModeBar': False}, post_script="document.body.style.margin='0';document.body.style.overflow='hidden';")
